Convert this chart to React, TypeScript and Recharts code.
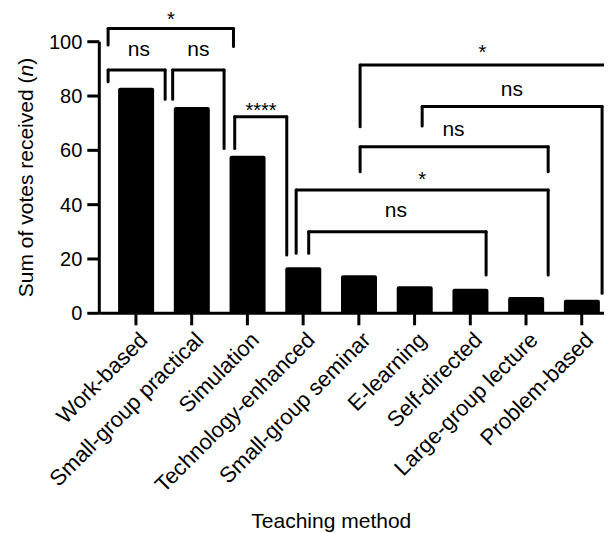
import React from 'react'
import {
  BarChart,
  Bar,
  XAxis,
  YAxis,
  ReferenceLine,
  ReferenceDot,
} from 'recharts'

const FONT = '"Liberation Sans", Arial, Helvetica, sans-serif'
const INK = '#000'

const categories = [
  'Work-based',
  'Small-group practical',
  'Simulation',
  'Technology-enhanced',
  'Small-group seminar',
  'E-learning',
  'Self-directed',
  'Large-group lecture',
  'Problem-based',
]
const votes = [83, 76, 58, 17, 14, 10, 9, 6, 5]
const yTicks = [0, 20, 40, 60, 80, 100]

// significance brackets: leg positions are category indexes (small shifts keep
// neighbouring legs apart), heights are in votes
const bracketLabels = ['*', 'ns', 'ns', '****', 'ns', '*', 'ns', 'ns', '*']
const bracketStart = [0, 0, 1.03, 2.02, 3.2, 3.0, 4.02, 5.01, 4.02]
const bracketEnd = [2.0, 0.91, 1.85, 2.85, 6.03, 7.02, 7.02, 7.88, 8.02]
const bracketTop = [104.9, 89.6, 89.6, 72.4, 30.0, 45.4, 61.3, 76.1, 91.4]
const leftFoot = [98.8, 85.3, 78.8, 60.7, 22.1, 22.1, 52.1, 69.0, 68.7]
const rightFoot = [98.2, 78.8, 60.7, 21.5, 14.1, 14.1, 52.1, 7.4, 7.4]
const labelX = [1.0, 0.49, 1.44, 2.44, 4.59, 5.01, 5.51, 6.44, 5.97]
const labelY = [110.1, 96.8, 96.8, 76.3, 37.4, 50.9, 67.2, 82.2, 97.9]

const data = categories.map((name, i) => ({ name, votes: votes[i] }))

const PAD = { left: 8.8, right: 2.4 }

// eslint-disable-next-line @typescript-eslint/no-explicit-any
function CategoryTick(props: any) {
  const { x, y, payload } = props
  const ax = x + 2
  return (
    <text
      x={ax}
      y={y}
      dy="0.71em"
      textAnchor="end"
      transform={`rotate(-45, ${ax}, ${y})`}
      fontSize={22}
      fontFamily={FONT}
      fill={INK}
    >
      {payload.value}
    </text>
  )
}

function segLine(key: string, x1: number, y1: number, x2: number, y2: number) {
  return (
    <ReferenceLine
      key={key}
      xAxisId="n"
      segment={[
        { x: x1, y: y1 },
        { x: x2, y: y2 },
      ]}
      stroke={INK}
      strokeWidth={3}
      strokeLinecap="round"
      ifOverflow="visible"
    />
  )
}

export default function App() {
  const brackets: React.ReactNode[] = []
  bracketLabels.forEach((lab, i) => {
    brackets.push(segLine(`l${i}`, bracketStart[i], leftFoot[i], bracketStart[i], bracketTop[i]))
    brackets.push(segLine(`t${i}`, bracketStart[i], bracketTop[i], bracketEnd[i], bracketTop[i]))
    brackets.push(segLine(`r${i}`, bracketEnd[i], bracketTop[i], bracketEnd[i], rightFoot[i]))
    const star = lab.startsWith('*')
    brackets.push(
      <ReferenceDot
        key={`d${i}`}
        xAxisId="n"
        x={labelX[i]}
        y={labelY[i]}
        r={0}
        ifOverflow="visible"
        // eslint-disable-next-line @typescript-eslint/no-explicit-any
        shape={(p: any) => (
          <text
            x={p.cx}
            y={p.cy}
            dy={star ? 11.4 : 5.5}
            textAnchor="middle"
            fontSize={star ? 20 : 21}
            fontFamily={FONT}
            fill={INK}
          >
            {lab}
          </text>
        )}
      />
    )
  })

  return (
    <div style={{ width: 604, height: 525 }}>
      <BarChart
        width={604}
        height={525}
        data={data}
        margin={{ top: 33.7, right: 0, left: 0, bottom: 0 }}
      >
        <XAxis
          dataKey="name"
          type="category"
          interval={0}
          padding={PAD}
          height={219.7}
          tickSize={12}
          tickMargin={5}
          tick={<CategoryTick />}
          axisLine={{ stroke: INK, strokeWidth: 3 }}
          tickLine={{ stroke: INK, strokeWidth: 3 }}
          label={{
            // eslint-disable-next-line @typescript-eslint/no-explicit-any
            content: (p: any) => (
              <text
                x={p.viewBox.x + 232}
                y={p.viewBox.y + p.viewBox.height - 5}
                textAnchor="middle"
                fontSize={21}
                fontFamily={FONT}
                fill={INK}
              >
                Teaching method
              </text>
            ),
          }}
        />
        <XAxis
          xAxisId="n"
          type="number"
          domain={[-0.5, 8.5]}
          allowDataOverflow
          padding={PAD}
          hide
        />
        <YAxis
          type="number"
          domain={[0, 100]}
          ticks={yTicks}
          interval={0}
          width={91.3}
          tickSize={12}
          tickMargin={5}
          tick={{ fontSize: 20, fontFamily: FONT, fill: INK }}
          axisLine={{ stroke: INK, strokeWidth: 3 }}
          tickLine={{ stroke: INK, strokeWidth: 3 }}
          label={{
            // eslint-disable-next-line @typescript-eslint/no-explicit-any
            content: (p: any) => {
              const cx = p.viewBox.x + 25
              const cy = p.viewBox.y + p.viewBox.height / 2
              return (
                <text
                  x={cx}
                  y={cy}
                  textAnchor="middle"
                  transform={`rotate(-90, ${cx}, ${cy})`}
                  fontSize={21}
                  fontFamily={FONT}
                  fill={INK}
                >
                  Sum of votes received (<tspan fontStyle="italic">n</tspan>)
                </text>
              )
            },
          }}
        />
        <Bar dataKey="votes" fill={INK} barSize={36} radius={2} isAnimationActive={false} />
        {brackets}
      </BarChart>
    </div>
  )
}
